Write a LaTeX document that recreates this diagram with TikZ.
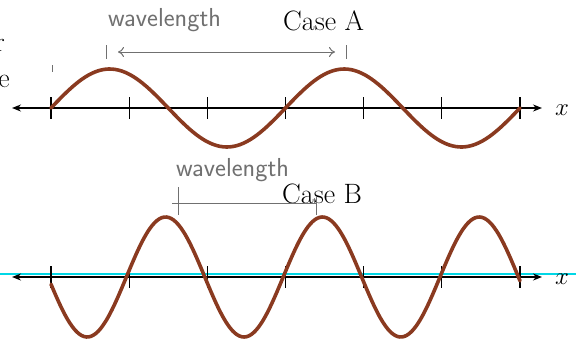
\documentclass[tikz,border=0pt]{standalone}
\usetikzlibrary{arrows.meta}
\definecolor{wavebrown}{RGB}{138,58,32}
\definecolor{pencil}{RGB}{112,112,112}
\definecolor{guide}{RGB}{0,215,230}
\begin{document}
\begin{tikzpicture}[
            x=1pt, y=-1pt,
            axis/.style={line width=2.2pt, {Stealth[length=9pt,width=7pt,inset=3pt]}-{Stealth[length=9pt,width=7pt,inset=3pt]}},
            tickmark/.style={line width=1.1pt},
            wave/.style={wavebrown, line width=3.6pt, line cap=round},
            pen/.style={pencil, line width=1pt},
            handtext/.style={pencil, font=\sffamily\fontsize{26}{26}\selectfont, inner sep=0pt},
            casetext/.style={font=\fontsize{28}{28}\selectfont, inner sep=0pt},
            every node/.style={align=center}
        ]
        \useasboundingbox (0,0) rectangle (576,343);
        \node[casetext, anchor=east] (cutr) at (5,45) {r};
        \node[casetext, anchor=east] (cute) at (10,81) {e};
        % case A
        \coordinate (aL) at (12,108);
        \coordinate (aR) at (542,108);
        \draw[axis] (aL) -- (aR);
        \foreach \i in {0,...,6}
            \draw[tickmark] ({51+78.17*\i},97) -- ({51+78.17*\i},119);
        \draw[wave] plot[domain=51:520, samples=140, smooth] (\x, {108-39*sin(1.5352*(\x-51))});
        \node[casetext, anchor=west] (xa) at (555,110) {$x$};
        \node[casetext, anchor=base west] (caseA) at (283,30) {Case A};
        % case B
        \draw[guide, line width=1.2pt] (0,274) -- (576,274);
        \coordinate (bL) at (12,277);
        \coordinate (bR) at (542,277);
        \draw[axis] (bL) -- (bR);
        \foreach \i in {0,...,6}
            \draw[tickmark] ({51+78.17*\i},266) -- ({51+78.17*\i},288);
        \draw[wave] plot[domain=51:520, samples=200, smooth] (\x, {277+60*sin(2.2959*(\x-48))});
        \node[casetext, anchor=west] (xb) at (555,279) {$x$};
        \node[casetext, anchor=base west] (caseB) at (282,203) {Case B};
        % pencil notes
        \node[handtext, anchor=base west] (wlA) at (108,26) {wavelength};
        \coordinate (wlAl) at (106,52);
        \coordinate (wlAr) at (346,52);
        \draw[pen] (wlAl) ++(0,-7) -- ++(0,14);
        \draw[pen] (wlAr) ++(0,-7) -- ++(0,14);
        \draw[pen, {To[length=6pt,width=10pt]}-{To[length=6pt,width=10pt]}] (118,52) -- (335,52);
        \draw[pen] (52,65) -- (52,72);
        \node[handtext, anchor=base west] (wlB) at (176,176) {wavelength};
        \coordinate (wlBl) at (178,203);
        \coordinate (wlBr) at (316,203);
        \draw[pen] (172,203) -- (wlBr);
        \draw[pen] (wlBl) ++(0,-16) -- ++(0,28);
        \draw[pen] (wlBr) ++(0,-6) -- ++(0,18);
    \end{tikzpicture}
\end{document}
